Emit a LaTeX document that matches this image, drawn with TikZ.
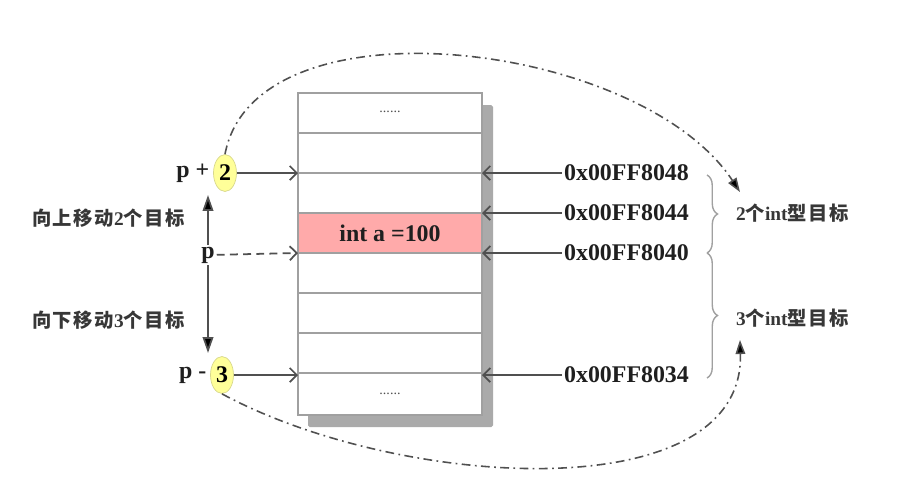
\documentclass[tikz,border=0pt]{standalone}
\usepackage{fontspec}
\setmainfont{Liberation Serif}
\newfontfamily\cjk{Noto Sans CJK SC}[LetterSpace=8]
\usetikzlibrary{arrows.meta, positioning, shapes.geometric, decorations.pathreplacing}
\definecolor{memgray}{RGB}{160,160,160}
\definecolor{memshadow}{RGB}{170,170,170}
\definecolor{memred}{RGB}{255,170,170}
\definecolor{ptryellow}{RGB}{255,255,153}
\definecolor{ptredge}{RGB}{215,215,140}
\definecolor{arrgray}{RGB}{80,80,80}
\definecolor{txtgray}{RGB}{55,55,55}

\tikzset{
  big/.style={font=\fontsize{13.6}{16}\selectfont\bfseries, text=black!88, inner sep=1pt},
  dots/.style={font=\fontsize{8}{9}\selectfont, text=arrgray, inner sep=0pt},
  zh/.style={font=\cjk\fontsize{11}{13}\selectfont\bfseries, text=txtgray, inner sep=1pt},
  ptr/.style={ellipse, draw=ptredge, fill=ptryellow, minimum width=0.46cm, minimum height=0.74cm,
    inner sep=0pt, font=\fontsize{13.6}{16}\selectfont\bfseries},
  cellline/.style={memgray, line width=0.9pt},
  toarrow/.style={-{Straight Barb[length=4pt,width=8pt]}, arrgray, line width=1pt},
  moveto/.style={-{Triangle[length=9pt,width=6pt,fill=black]}, arrgray, line width=1pt},
  jump/.style={-{Triangle[length=8pt,width=5.5pt,fill=black]}, arrgray, line width=0.9pt,
    dash pattern=on 5pt off 2.5pt on 1pt off 2.5pt},
  brc/.style={decorate, decoration={brace, amplitude=6pt}, memgray, line width=0.8pt}
}

\begin{document}
\begin{tikzpicture}[x=0.02cm, y=-0.02cm]
\useasboundingbox (0,0) rectangle (906,478);

% === Memoria (celdas) ===
\fill[memshadow, rounded corners=1pt] (308,105) rectangle (493,427);
\fill[white] (298,93) rectangle (482,415);
\fill[memred] (298,213) rectangle (482,253);
\foreach \y in {133,213,253,293,333,373}
    \draw[cellline] (298,\y) -- (482,\y);
\draw[memgray, line width=1.6pt] (298,173) -- (482,173);
\draw[memgray, line width=1.2pt] (298,93) rectangle (482,415);

\node[dots] (dtop) at (390,112) {......};
\node[dots] (dbot) at (390,394) {......};
\node[big] (a100) at (390,233) {int a =100};

% bordes de las celdas
\coordinate (L48) at (298,173);
\coordinate (L40) at (298,253);
\coordinate (L34) at (298,375);
\coordinate (R48) at (482,173);
\coordinate (R44) at (482,213);
\coordinate (R40) at (482,253);
\coordinate (R34) at (482,375);

% === Punteros (izquierda) ===
\node[ptr] (two) at (225,173) {2};
\node[big, left=1pt of two] (pplus) {p +};
\node[big] (p) at (208,255) {p};
\node[ptr] (three) at (222,375) {3};
\node[big, left=1pt of three] (pminus) {p -};

\draw[toarrow] (two) -- (L48);
\draw[toarrow, dash pattern=on 4.5pt off 3pt] (p) -- (L40);
\draw[toarrow] (three) -- (L34);

\coordinate (up) at (208,195);
\coordinate (down) at (208,353);
\draw[moveto] (p) -- (up);
\draw[moveto] (p) -- (down);

\node[zh, anchor=west] (upl) at (30,218) {向上移动{\rmfamily 2}个目标};
\node[zh, anchor=west] (downl) at (30,320) {向下移动{\rmfamily 3}个目标};

% === Direcciones (derecha) ===
\node[big, anchor=west] (ad48) at (562,173) {0x00FF8048};
\node[big, anchor=west] (ad44) at (562,213) {0x00FF8044};
\node[big, anchor=west] (ad40) at (562,253) {0x00FF8040};
\node[big, anchor=west] (ad34) at (562,375) {0x00FF8034};

\draw[toarrow] (ad48) -- (R48);
\draw[toarrow] (ad44) -- (R44);
\draw[toarrow] (ad40) -- (R40);
\draw[toarrow] (ad34) -- (R34);

% llaves
\coordinate (b48) at (707,175);
\coordinate (b40) at (707,253);
\coordinate (b34) at (707,378);
\draw[brc] (b48) -- (b40);
\draw[brc] (b40) -- (b34);

\node[zh, anchor=west] (two_int) at (734,213) {{\rmfamily 2}个{\rmfamily int}型目标};
\node[zh, anchor=west] (three_int) at (734,318) {{\rmfamily 3}个{\rmfamily int}型目标};

% === Saltos ===
\coordinate (tip2) at (740,192);
\coordinate (tip3) at (740,340);
\draw[jump] (two.north) .. controls (255,-5) and (640,40) .. (tip2);
\draw[jump] (three.south) .. controls (400,490) and (745,510) .. (tip3);

\end{tikzpicture}
\end{document}
